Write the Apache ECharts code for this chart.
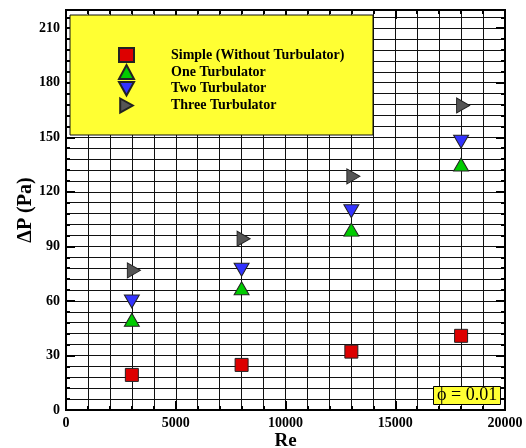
<!DOCTYPE html>
<html>
<head>
<meta charset="utf-8">
<script src="https://cdn.jsdelivr.net/npm/echarts@6/dist/echarts.min.js"></script>
<style>
  html, body { margin: 0; padding: 0; background: #fff; }
  #chart { width: 526px; height: 448px; }
</style>
</head>
<body>
<div id="chart"></div>
<script>
// Re values and pressure drop (Pa)
var reValues = [3000, 8000, 13000, 18000];
var simpleDP = [19.3, 24.8, 32.1, 40.8];
var oneTurbDP = [49.6, 67.0, 99.2, 135.0];
var twoTurbDP = [59.7, 77.1, 109.3, 147.5];
var threeTurbDP = [76.8, 94.2, 128.5, 167.5];
var seriesNames = ['Simple (Without Turbulator)', 'One Turbulator', 'Two Turbulator', 'Three Turbulator'];

var serif = 'Liberation Serif, Times New Roman, serif';

function pairs(xs, ys) {
    return xs.map(function (x, i) { return [x, ys[i]]; });
}

var chart = echarts.init(document.getElementById('chart'));

// small ticks on every grid line, long ticks on labelled values
function yAx(pos, interval, tickLen, showLabel, showGrid) {
    return {
        type: 'value', position: pos, min: 0, max: 220, interval: interval,
        axisLine: { show: true, onZero: false, lineStyle: { color: '#000', width: 2 } },
        axisTick: { show: true, inside: true, length: tickLen, lineStyle: { color: '#000', width: 2 } },
        axisLabel: {
            show: showLabel, margin: 6, color: '#000', fontFamily: serif, fontWeight: 'bold', fontSize: 14,
            formatter: function (v) { return (v % 30 === 0 && v <= 210) ? String(v) : ''; }
        },
        splitLine: { show: showGrid, lineStyle: { color: '#111', width: 1 } }
    };
}
function xAx(pos, interval, tickLen, showLabel, showGrid) {
    return {
        type: 'value', position: pos, min: 0, max: 20000, interval: interval,
        axisLine: { show: true, onZero: false, lineStyle: { color: '#000', width: 2 } },
        axisTick: { show: true, inside: true, length: tickLen, lineStyle: { color: '#000', width: 2 } },
        axisLabel: {
            show: showLabel, margin: 6, color: '#000', fontFamily: serif, fontWeight: 'bold', fontSize: 14,
            formatter: function (v) { return v % 5000 === 0 ? String(v) : ''; }
        },
        splitLine: { show: showGrid, lineStyle: { color: '#111', width: 1 } }
    };
}

var yMain = yAx('left', 6, 4, true, true);
yMain.name = 'ΔP (Pa)';
yMain.nameLocation = 'middle';
yMain.nameGap = 30;
yMain.nameMoveOverlap = false;
yMain.nameTextStyle = { color: '#000', fontFamily: serif, fontWeight: 'bold', fontSize: 20 };

var xMain = xAx('bottom', 1000, 4, true, true);
xMain.name = 'Re';
xMain.nameLocation = 'middle';
xMain.nameGap = 22;
xMain.nameMoveOverlap = false;
xMain.nameTextStyle = { color: '#000', fontFamily: serif, fontWeight: 'bold', fontSize: 19 };

var markerStyle = function (c) { return { color: c, borderColor: '#222', borderWidth: 1, opacity: 1 }; };

option = {
    animation: false,
    grid: {
        left: 66, right: 21, top: 10, bottom: 38, show: true, borderColor: '#000', borderWidth: 2,
        outerBoundsMode: 'none', containLabel: false
    },
    xAxis: [
        xMain,
        xAx('bottom', 5000, 9, false, false),
        xAx('top', 1000, 4, false, false),
        xAx('top', 5000, 9, false, false)
    ],
    yAxis: [
        yMain,
        yAx('left', 30, 9, false, false),
        yAx('right', 6, 4, false, false),
        yAx('right', 30, 9, false, false)
    ],
    graphic: [{
        type: 'rect', z: 3,
        shape: { x: 70, y: 15, width: 303, height: 120 },
        style: { fill: '#ffff33', stroke: '#111', lineWidth: 1 }
    }],
    title: {
        text: 'ϕ = 0.01',
        left: 433, top: 386,
        backgroundColor: '#ffff33', borderColor: '#000', borderWidth: 1,
        padding: [0, 4, 0, 4],
        textStyle: { color: '#000', fontFamily: serif, fontWeight: 'normal', fontSize: 18, lineHeight: 19 }
    },
    legend: {
        z: 5,
        orient: 'vertical', left: 113, top: 42,
        itemWidth: 15, itemHeight: 14, itemGap: 1,
        selectedMode: false,
        data: seriesNames,
        textStyle: { color: '#000', fontFamily: serif, fontWeight: 'bold', fontSize: 14, lineHeight: 14, padding: [0, 0, 0, 32] }
    },
    series: [
        {
            name: seriesNames[0], type: 'scatter', symbol: 'rect', symbolSize: 13,
            itemStyle: markerStyle('#dd0000'), data: pairs(reValues, simpleDP)
        },
        {
            name: seriesNames[1], type: 'scatter', symbol: 'triangle', symbolSize: [15, 13],
            itemStyle: markerStyle('#00cc00'), data: pairs(reValues, oneTurbDP)
        },
        {
            name: seriesNames[2], type: 'scatter', symbol: 'path://M0,0 L10,0 L5,9 Z', symbolSize: [15, 13],
            itemStyle: markerStyle('#3333ff'), data: pairs(reValues, twoTurbDP)
        },
        {
            name: seriesNames[3], type: 'scatter', symbol: 'path://M0,0 L9,5 L0,10 Z', symbolSize: [13, 15],
            symbolOffset: [2, 0],
            itemStyle: markerStyle('#555555'), data: pairs(reValues, threeTurbDP)
        }
    ]
};
chart.setOption(option);
</script>
</body>
</html>
